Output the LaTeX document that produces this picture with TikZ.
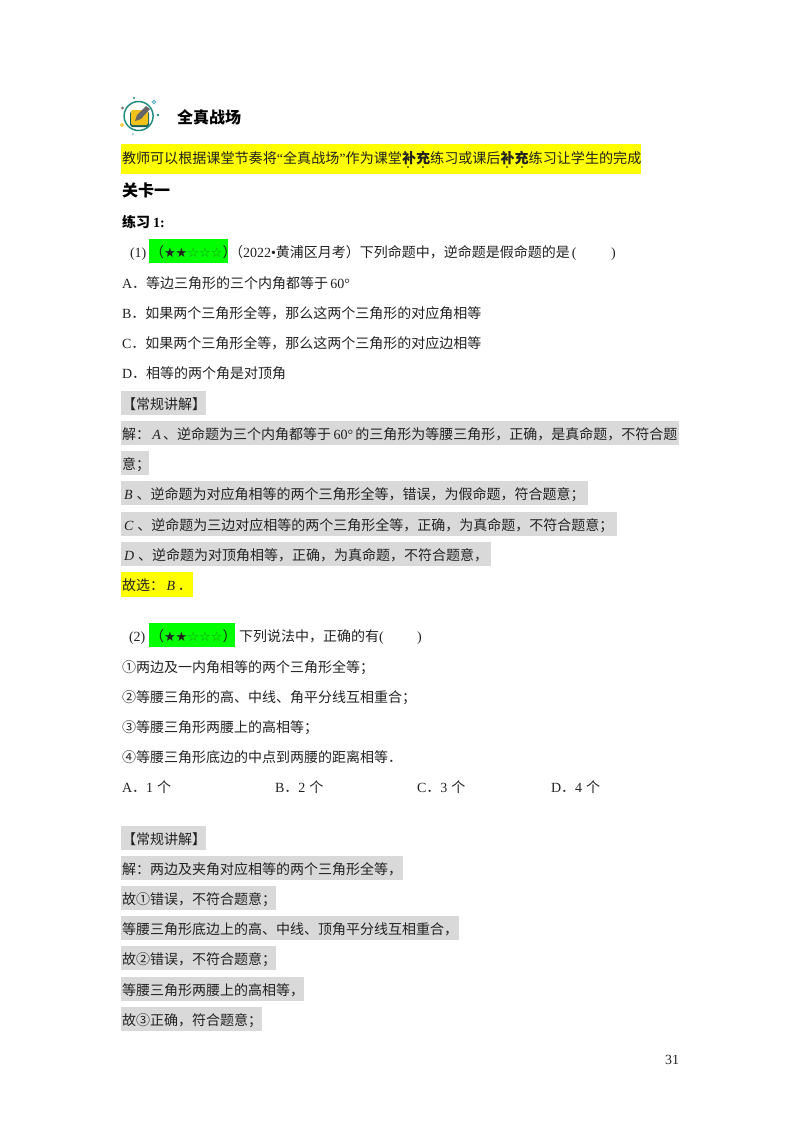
\documentclass[tikz,border=0pt]{standalone}
\usepackage{fontspec}
\setmainfont{Noto Sans CJK SC}
\newfontfamily\lat{Liberation Serif}
\newfontfamily\sym{DejaVu Sans}
\newcommand{\la}[1]{{\lat #1}}
\newcommand{\li}[1]{{\lat\itshape #1}}
\newcommand{\stars}{{\sym\fontsize{9.8pt}{10pt}\selectfont ★★\textcolor{hollow}{☆☆☆}}}
\definecolor{hl}{HTML}{FFFF00}
\definecolor{gr}{HTML}{00FF00}
\definecolor{gy}{HTML}{D9D9D9}
\definecolor{hollow}{HTML}{1C8F1C}
\definecolor{ink}{HTML}{222222}
\definecolor{teal1}{HTML}{1F8C80}
\definecolor{gold1}{HTML}{F2C21A}
\tikzset{
 x=0.75pt,y=-0.75pt,
 txt/.style={anchor=base west,inner sep=0pt,outer sep=0pt,font=\fontsize{10.5pt}{12pt}\selectfont,text=ink},
 head/.style={txt,font=\fontsize{12pt}{14pt}\selectfont\bfseries,text=black},
 sub/.style={txt,font=\fontsize{10.5pt}{12pt}\selectfont\bfseries,text=black},
 band/.style={fill=#1,draw=none},
 emdot/.style={fill=black,draw=none},
}
\begin{document}
\begin{tikzpicture}
\useasboundingbox (0,0) rectangle (800,1132);
\fill[white] (0,0) rectangle (800,1132);
% highlight bands
\fill[band=hl] (121,144) rectangle (641,174);
\fill[band=gr] (149,239) rectangle (228,263);
\fill[band=gy] (121,391) rectangle (206,415);
\fill[band=gy] (121,421) rectangle (679,445);
\fill[band=gy] (121,451) rectangle (149,475);
\fill[band=gy] (121,481) rectangle (588,505);
\fill[band=gy] (121,512) rectangle (617,536);
\fill[band=gy] (121,542) rectangle (491,566);
\fill[band=hl] (121,572) rectangle (193,597);
\fill[band=gr] (149,623) rectangle (235,647);
\fill[band=gy] (121,826) rectangle (206,850);
\fill[band=gy] (121,856) rectangle (403,880);
\fill[band=gy] (121,886) rectangle (276,910);
\fill[band=gy] (121,916) rectangle (459,940);
\fill[band=gy] (121,946) rectangle (276,970);
\fill[band=gy] (121,977) rectangle (304,1001);
\fill[band=gy] (121,1007) rectangle (262,1031);
% icon
\draw[teal1,line width=1.1pt] (138.6,116) circle (14.5);
\fill[teal1!70!black,rounded corners=2pt] (130,111) rectangle (149,127);
\fill[gold1,rounded corners=1.5pt] (131,110) rectangle (148,125);
\fill[gray!80!black] (135,121) -- (137,115) -- (146,106) -- (150,109) -- (141,119) -- cycle;
\fill[teal1] (134,98) circle (1.2);
\fill[gray] (122.5,108) circle (1.6);
\fill[teal1] (158,115) circle (1.3);
\draw[cyan!60!gray,line width=.7pt] (154,102) circle (1.8);
\draw[gold1,line width=.7pt] (122,125) circle (1.5);
\fill[cyan!60!gray] (133,134) circle (.8);
% headings
\node[head] (t0) at (177,123) {全真战场};
\node[txt,font=\fontsize{10.56pt}{12pt}\selectfont] (t1) at (122,163) {教师可以根据课堂节奏将\la{“}全真战场\la{”}作为课堂\textbf{补充}练习或课后\textbf{补充}练习让学生的完成};
\fill[emdot] (408,167) circle (.9) (423,167) circle (.9) (507,167) circle (.9) (522,167) circle (.9);
\node[head] (t2) at (122,196) {关卡一};
\node[sub] (t3) at (122,227) {练习 \la{\bfseries 1:}};
\node[txt] (q1a) at (130,257) {\la{(1)}};
\node[txt] (q1b) at (150,257) {（\stars）};
\node[txt] (q1c) at (229,257) {（\la{2022•}黄浦区月考）下列命题中，逆命题是假命题的是\la{\hspace{1.5pt}(}};
\node[txt] (q1d) at (611,257) {\la{)}};
\node[txt] (a1) at (122,288) {\la{A}．等边三角形的三个内角都等于\,\la{60°}};
\node[txt] (a2) at (122,318) {\la{B}．如果两个三角形全等，那么这两个三角形的对应角相等};
\node[txt] (a3) at (122,348) {\la{C}．如果两个三角形全等，那么这两个三角形的对应边相等};
\node[txt] (a4) at (122,378) {\la{D}．相等的两个角是对顶角};
\node[txt] (s0) at (122,409) {【常规讲解】};
\node[txt] (s1) at (122,439) {解：\,\li{A}\,、逆命题为三个内角都等于\,\la{60°}\,的三角形为等腰三角形，正确，是真命题，不符合题};
\node[txt] (s2) at (122,469) {意；};
\node[txt] (s3) at (124,499) {\li{B}\hspace{3pt}、逆命题为对应角相等的两个三角形全等，错误，为假命题，符合题意；};
\node[txt] (s4) at (124,530) {\li{C}\hspace{3pt}、逆命题为三边对应相等的两个三角形全等，正确，为真命题，不符合题意；};
\node[txt] (s5) at (124,560) {\li{D}\hspace{3pt}、逆命题为对顶角相等，正确，为真命题，不符合题意，};
\node[txt] (s6) at (122,590) {故选：\hspace{2pt}\li{B}\hspace{2pt}．};
\node[txt] (q2a) at (129,641) {\la{(2)}};
\node[txt] (q2b) at (150,641) {（\stars）};
\node[txt] (q2c) at (239,641) {下列说法中，正确的有\la{(}};
\node[txt] (q2d) at (417,641) {\la{)}};
\node[txt] (b1) at (122,672) {①两边及一内角相等的两个三角形全等；};
\node[txt] (b2) at (122,702) {②等腰三角形的高、中线、角平分线互相重合；};
\node[txt] (b3) at (122,732) {③等腰三角形两腰上的高相等；};
\node[txt] (b4) at (122,762) {④等腰三角形底边的中点到两腰的距离相等．};
\node[txt] (c1) at (122,792) {\la{A}．\la{1}\hspace{3pt}个};
\node[txt] (c2) at (275,792) {\la{B}．\la{2}\hspace{3pt}个};
\node[txt] (c3) at (417,792) {\la{C}．\la{3}\hspace{3pt}个};
\node[txt] (c4) at (551,792) {\la{D}．\la{4}\hspace{3pt}个};
\node[txt] (r0) at (122,844) {【常规讲解】};
\node[txt] (r1) at (122,874) {解：两边及夹角对应相等的两个三角形全等，};
\node[txt] (r2) at (122,904) {故①错误，不符合题意；};
\node[txt] (r3) at (122,934) {等腰三角形底边上的高、中线、顶角平分线互相重合，};
\node[txt] (r4) at (122,964) {故②错误，不符合题意；};
\node[txt] (r5) at (122,995) {等腰三角形两腰上的高相等，};
\node[txt] (r6) at (122,1025) {故③正确，符合题意；};
\node[txt] (pg) at (665,1064) {\la{31}};
\end{tikzpicture}
\end{document}
